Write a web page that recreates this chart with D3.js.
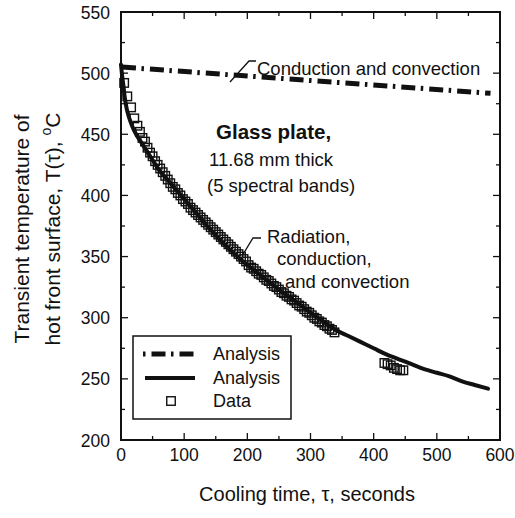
<!DOCTYPE html>
<html>
<head>
<meta charset="utf-8">
<script src="https://cdn.jsdelivr.net/npm/d3@7"></script>
<style>
  html, body { margin: 0; padding: 0; background: #fff; }
  svg { display: block; }
  text { font-family: "Liberation Sans", Arial, Helvetica, sans-serif; fill: #111; }
</style>
</head>
<body>
<svg id="chart" width="515" height="518"></svg>
<script>
// Cooling of an 11.68 mm glass plate: hot front surface temperature vs time.

// Conduction and convection only (analysis, dash-dot)
const condTime = [0, 585];
const condTemp = [505, 483.5];

// Radiation, conduction and convection (analysis, solid)
const radTime = [0, 2, 4, 6, 9, 12, 16, 20, 25, 30, 40, 50, 60, 70, 80, 90, 100, 120, 140, 160, 180, 200, 220, 240, 260, 280, 300, 320, 340, 360, 380, 400, 420, 440, 460, 480, 500, 520, 540, 560, 581];
const radTemp = [507, 497, 489, 480, 471, 465, 459, 454, 449, 445, 437, 429, 421, 415, 409, 403, 397, 385, 373, 362, 352, 343, 335, 327, 319, 312, 304, 297, 290, 285, 280, 275, 270, 266, 262, 258, 255, 252, 248, 245, 242];

// Measured data
const dataTime = [5, 10, 16, 21, 26, 30, 34, 38, 42, 46, 50, 54, 58, 62, 66, 70, 74, 78, 82, 86, 90, 94, 98, 102, 106, 110, 114, 118, 122, 126, 130, 134, 138, 142, 146, 150, 154, 158, 162, 166, 170, 174, 178, 182, 186, 190, 194, 198, 202, 206, 210, 214, 218, 222, 226, 230, 234, 238, 242, 246, 250, 254, 258, 262, 266, 270, 274, 278, 282, 286, 290, 294, 298, 302, 306, 310, 314, 318, 322, 326, 330, 334, 338, 417, 422, 427, 432, 437, 442, 447];
const dataTemp = [492, 481, 472, 463, 457, 452, 447, 444, 439, 435, 432, 428, 425, 422, 419, 416, 413, 410, 407, 405, 402, 400, 397, 395, 393, 390, 388, 386, 384, 382, 380, 378, 376, 374, 372, 370, 368, 366, 364, 362, 360, 358, 356, 354, 352, 350, 348, 346, 343, 341, 340, 338, 336, 335, 333, 331, 330, 328, 326, 325, 323, 321, 320, 318, 317, 315, 314, 312, 310, 309, 307, 305, 304, 302, 300, 299, 297, 296, 294, 293, 291, 290, 288, 263, 262, 261, 259, 258, 257, 257];

const xTicks = [0, 100, 200, 300, 400, 500, 600];
const yTicks = [200, 250, 300, 350, 400, 450, 500, 550];

const svg = d3.select("#chart");
const plotL = 121, plotR = 500, plotT = 12, plotB = 440;

const x = d3.scaleLinear().domain([0, 600]).range([plotL, plotR]);
const y = d3.scaleLinear().domain([200, 550]).range([plotB, plotT]);

const ink = "#111";

// Frame
svg.append("rect")
  .attr("x", plotL).attr("y", plotT)
  .attr("width", plotR - plotL).attr("height", plotB - plotT)
  .attr("fill", "none").attr("stroke", ink).attr("stroke-width", 2);

// Inward ticks on all four sides
const xMinor = d3.range(0, 601, 50);
const yMinor = d3.range(200, 551, 25);
const tickG = svg.append("g").attr("stroke", ink).attr("stroke-width", 1.3);
xMinor.forEach(v => {
  const len = v % 100 === 0 ? 7 : 4;
  tickG.append("line").attr("x1", x(v)).attr("x2", x(v)).attr("y1", plotB).attr("y2", plotB - len);
  tickG.append("line").attr("x1", x(v)).attr("x2", x(v)).attr("y1", plotT).attr("y2", plotT + len);
});
yMinor.forEach(v => {
  const len = v % 50 === 0 ? 7 : 4;
  tickG.append("line").attr("y1", y(v)).attr("y2", y(v)).attr("x1", plotL).attr("x2", plotL + len);
  tickG.append("line").attr("y1", y(v)).attr("y2", y(v)).attr("x1", plotR).attr("x2", plotR - len);
});

// Tick labels
svg.append("g").selectAll("text").data(xTicks).join("text")
  .attr("x", d => x(d)).attr("y", 461)
  .attr("text-anchor", "middle").attr("font-size", 17.5).text(d => d);
svg.append("g").selectAll("text").data(yTicks).join("text")
  .attr("x", 110).attr("y", d => y(d) + 6.5)
  .attr("text-anchor", "end").attr("font-size", 17.5).text(d => d);

// Axis titles
svg.append("text").attr("x", 307).attr("y", 501)
  .attr("text-anchor", "middle").attr("font-size", 20)
  .text("Cooling time, \u03C4, seconds");

const yt = svg.append("g").attr("transform", "rotate(-90)");
yt.append("text").attr("x", -229).attr("y", 29)
  .attr("text-anchor", "middle").attr("font-size", 21)
  .text("Transient temperature of");
const yt2 = yt.append("text").attr("x", -229).attr("y", 60)
  .attr("text-anchor", "middle").attr("font-size", 21);
yt2.append("tspan").text("hot front surface, T(\u03C4), ");
yt2.append("tspan").attr("font-size", 14).attr("dy", -9).text("o");
yt2.append("tspan").attr("dy", 9).text("C");

// Analysis curves
const line = d3.line().x(d => x(d[0])).y(d => y(d[1])).curve(d3.curveMonotoneX);
const plotG = svg.append("g");

plotG.append("path")
  .datum(condTime.map((t, i) => [t, condTemp[i]]))
  .attr("d", d3.line().x(d => x(d[0])).y(d => y(d[1])))
  .attr("fill", "none").attr("stroke", ink).attr("stroke-width", 5)
  .attr("stroke-dasharray", "14,5.5,2.5,6").attr("stroke-dashoffset", -1);

plotG.append("path")
  .datum(radTime.map((t, i) => [t, radTemp[i]]))
  .attr("d", line)
  .attr("fill", "none").attr("stroke", ink).attr("stroke-width", 4)
  .attr("stroke-linecap", "round").attr("stroke-linejoin", "round");

// Data squares
const sq = 8.5;
plotG.append("g").selectAll("rect")
  .data(dataTime.map((t, i) => [t, dataTemp[i]]))
  .join("rect")
  .attr("x", d => x(d[0]) - sq / 2).attr("y", d => y(d[1]) - sq / 2)
  .attr("width", sq).attr("height", sq)
  .attr("fill", "none").attr("stroke", ink).attr("stroke-width", 1.4);

// Annotations
const ann = svg.append("g");
ann.append("text").attr("x", 257).attr("y", 75).attr("font-size", 18.5)
  .text("Conduction and convection");
ann.append("path").attr("d", "M256,61 L249,61 L230,82")
  .attr("fill", "none").attr("stroke", ink).attr("stroke-width", 1.3);

ann.append("text").attr("x", 216).attr("y", 139).attr("font-size", 20.5)
  .attr("font-weight", "bold").text("Glass plate,");
ann.append("text").attr("x", 209).attr("y", 166).attr("font-size", 18.5)
  .text("11.68 mm thick");
ann.append("text").attr("x", 207).attr("y", 192).attr("font-size", 18.5)
  .text("(5 spectral bands)");

ann.append("text").attr("x", 267).attr("y", 243).attr("font-size", 18.5).text("Radiation,");
ann.append("text").attr("x", 277).attr("y", 265).attr("font-size", 18.5).text("conduction,");
ann.append("text").attr("x", 285).attr("y", 288).attr("font-size", 18.5).text("and convection");
ann.append("path").attr("d", "M261,238 L253,238 L242,256")
  .attr("fill", "none").attr("stroke", ink).attr("stroke-width", 1.3);

// Legend
const lg = svg.append("g");
lg.append("rect").attr("x", 133).attr("y", 336).attr("width", 158).attr("height", 83)
  .attr("fill", "#fff").attr("stroke", ink).attr("stroke-width", 1.5);
lg.append("line").attr("x1", 143).attr("x2", 195).attr("y1", 354).attr("y2", 354)
  .attr("stroke", ink).attr("stroke-width", 5)
  .attr("stroke-dasharray", "2.5,6,14,5.5").attr("stroke-dashoffset", 0);
lg.append("line").attr("x1", 145).attr("x2", 195).attr("y1", 378).attr("y2", 378)
  .attr("stroke", ink).attr("stroke-width", 4);
lg.append("rect").attr("x", 171 - sq / 2).attr("y", 401 - sq / 2).attr("width", sq).attr("height", sq)
  .attr("fill", "none").attr("stroke", ink).attr("stroke-width", 1.4);
lg.append("text").attr("x", 213).attr("y", 360).attr("font-size", 18).text("Analysis");
lg.append("text").attr("x", 213).attr("y", 384).attr("font-size", 18).text("Analysis");
lg.append("text").attr("x", 213).attr("y", 407).attr("font-size", 18).text("Data");
</script>
</body>
</html>
